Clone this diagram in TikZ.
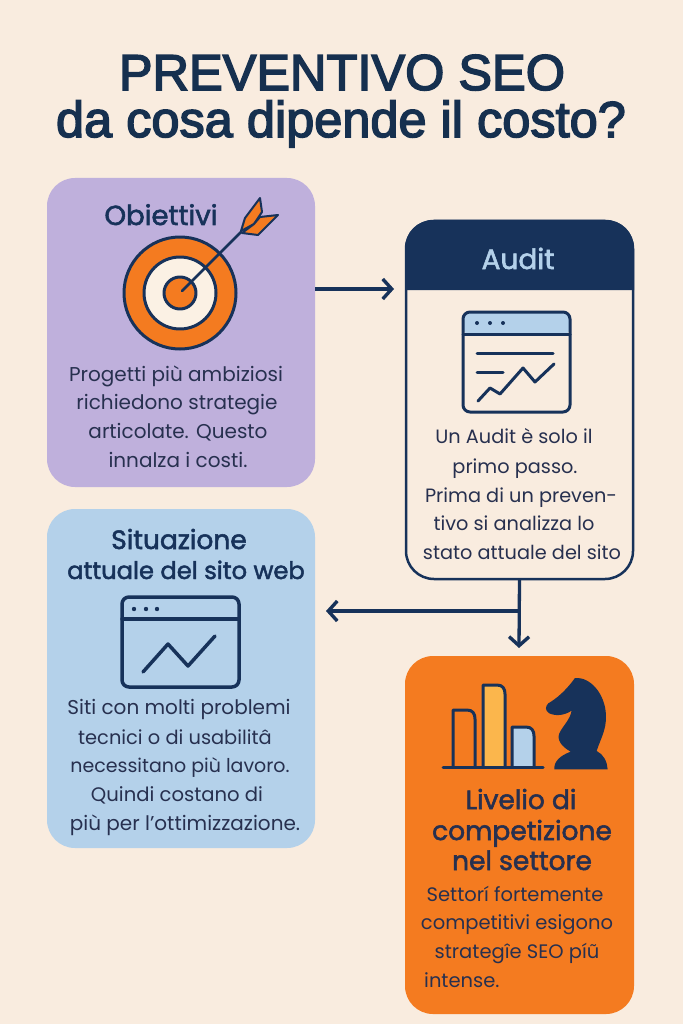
\documentclass[tikz,border=0pt]{standalone}
\usepackage{fontspec}
\setmainfont{Poppins}
\newfontfamily\ttlfont[FakeBold=3]{Liberation Sans}
\newfontfamily\headfont[FakeBold=2]{Poppins}
\usetikzlibrary{arrows.meta}
\definecolor{bgc}{HTML}{F9ECDF}
\definecolor{navy}{HTML}{17325A}
\definecolor{ttlc}{HTML}{16304F}
\definecolor{ink}{HTML}{27304F}
\definecolor{lilac}{HTML}{BFB0DC}
\definecolor{sky}{HTML}{B4D1EA}
\definecolor{org}{HTML}{F47B20}
\definecolor{yel}{HTML}{FBB64C}
\definecolor{cream}{HTML}{FBF1E4}
\tikzset{
 x=1pt,y=-1pt,
 card/.style={rounded corners=28pt,minimum width=#1,inner sep=0pt,outer sep=0pt},
 body/.style={text=ink,inner sep=0pt,anchor=base,font=\fontsize{#1}{20}\selectfont},
 body/.default=20,
 head/.style={text=navy,inner sep=0pt,anchor=base,font=\headfont\fontsize{#1}{26}\selectfont},
 head/.default=26.5,
 ttl/.style={text=ttlc,inner sep=0pt,anchor=base,font=\ttlfont\fontsize{50.5}{52}\selectfont},
 icon/.style={draw=navy,line width=3pt,line join=round,line cap=round},
 thin icon/.style={draw=navy,line width=2.5pt,line join=round,line cap=round},
 conn/.style={draw=navy,line width=3.3pt,-{Straight Barb[length=9pt,width=20pt,line width=3.4pt]}},
}
\begin{document}
\begin{tikzpicture}
\useasboundingbox (0,0) rectangle (683,1024);
\fill[bgc] (0,0) rectangle (683,1024);
% title
\node[ttl] (t1) at (342,90) {PREVENTIVO SEO};
\node[ttl] (t2) at (341,137) {da cosa dipende il costo?};
% cards
\node[card=268pt,minimum height=309pt,fill=lilac] (obj) at (181,332.5) {};
\node[card=227pt,minimum height=358pt,fill=bgc,draw=navy,line width=2.5pt] (aud) at (519.5,400) {};
\node[card=268pt,minimum height=339pt,fill=sky] (sit) at (181,678.5) {};
\node[card=229pt,minimum height=358pt,fill=org] (cmp) at (519.5,835) {};
% audit header
\fill[navy] (405,290) [rounded corners=28pt] -- (405,220) -- (634,220) [sharp corners] -- (634,290) -- cycle;
\node[head=28,text=sky] (audh) at (518,269) {Audit};
% connectors
\coordinate (objout) at (315,289);
\coordinate (audin) at (394,289);
\coordinate (branch) at (519,611);
\coordinate (sitin) at (326,611);
\coordinate (cmpin) at (519,648);
\draw[conn] (objout) -- (audin);
\draw[conn] (aud.south) -- (cmpin);
\draw[conn] (branch) -- (sitin);
% Obiettivi
\node[head=27.5] (objh) at (161,225) {Obiettivi};
\draw[icon,fill=org] (180,293) circle (56);
\draw[icon,fill=cream] (180,293) circle (36);
\draw[icon,fill=org] (180,293) circle (16);
\draw[thin icon] (182,291) -- (241,232);
\draw[thin icon,fill=org,line width=2pt] (241,231) -- (245,218) -- (260,198) -- (262,212) -- (254,224) -- cycle;
\draw[thin icon,fill=org,line width=2pt] (242,233) -- (258,235) -- (278,215) -- (260,217) -- (254,224) -- cycle;
\node[body] (o1) at (176,381) {Progetti più ambiziosi};
\node[body] (o2) at (177,409) {richiedono strategie};
\node[body] (o3) at (178,438) {articolate. Questo};
\node[body] (o4) at (178,467) {innalza i costi.};
% Audit icon
\fill[sky,rounded corners=6pt] (463,334) -- (463,312) -- (570,312) -- (570,334) -- cycle;
\draw[icon,rounded corners=7pt] (463,312) rectangle (570,412);
\draw[icon] (463,334) -- (570,334);
\foreach \d/\n in {477/a,490/b,503/c} \fill[navy] (\d,323) circle (2);
\draw[icon] (477,353) -- (553,353);
\draw[icon] (477,372) -- (503,372);
\draw[icon] (478,401) -- (490,388) -- (500,394) -- (523,368) -- (535,382) -- (554,364);
\node[body=19.3] (a1) at (514,443) {Un Audit è solo il};
\node[body=19.3] (a2) at (515,473) {primo passo.};
\node[body=19.3] (a3) at (521,502) {Prima di un preven-};
\node[body=19.3] (a4) at (514,530) {tivo si analizza lo};
\node[body=19.3] (a5) at (522,559) {stato attuale del sito};
% Situazione
\node[head] (s1) at (179,549) {Situazione};
\node[head=24.2] (s2) at (186,579) {attuale del sito web};
\draw[icon,line width=3.5pt,rounded corners=7pt] (122,597) rectangle (239,687);
\draw[icon,line width=3.5pt] (122,619) -- (239,619);
\foreach \d/\n in {134/a,146/b,157/c} \fill[navy] (\d,609) circle (2.2);
\draw[icon,line width=3.5pt] (143,672) -- (168,644) -- (188,666) -- (215,636);
\node[body] (s3) at (179,714) {Siti con molti problemi};
\node[body=19.4] (s4) at (175,744) {tecnici o di usabilitâ};
\node[body=19] (s5) at (180,772) {necessitano più lavoro.};
\node[body=19.6] (s6) at (177,801) {Quindi costano di};
\node[body] (s7) at (185,830) {più per l’ottimizzazione.};
% Competizione icon
\fill[yel] (483,767) -- (483,685) -- (497,685) .. controls (503,685) and (505,689) .. (505,694) -- (505,767) -- cycle;
\fill[sky] (512,767) -- (512,727) -- (526,727) .. controls (532,727) and (534,731) .. (534,736) -- (534,767) -- cycle;
\draw[icon,line cap=butt] (453,767) -- (453,710) -- (467,710) .. controls (473,710) and (475,714) .. (475,719) -- (475,767);
\draw[icon,line cap=butt] (483,767) -- (483,685) -- (497,685) .. controls (503,685) and (505,689) .. (505,694) -- (505,767);
\draw[icon,line cap=butt] (512,767) -- (512,727) -- (526,727) .. controls (532,727) and (534,731) .. (534,736) -- (534,767);
\draw[icon] (443,767) -- (543,767);
\begin{scope}[shift={(400,650)},x=0.3333pt,y=-0.3333pt]
\fill[navy] (463,358) .. controls (462,335) and (478,318) .. (512,305)
 .. controls (485,290) and (470,270) .. (478,250)
 .. controls (488,228) and (510,210) .. (515,182)
 .. controls (495,195) and (470,200) .. (448,190)
 .. controls (435,182) and (435,170) .. (445,160)
 .. controls (470,145) and (495,125) .. (525,84)
 .. controls (570,80) and (615,130) .. (618,195)
 .. controls (620,240) and (600,270) .. (590,303)
 .. controls (610,312) and (622,335) .. (623,358) -- cycle;
\end{scope}
\node[head,text=ink] (c1) at (521,809) {Livelio di};
\node[head,text=ink] (c2) at (522,840) {competizione};
\node[head,text=ink] (c3) at (522,870) {nel settore};
\node[body=19.5] (c4) at (515,901) {Settorí fortemente};
\node[body=19.5] (c5) at (517,929) {competitivi esigono};
\node[body=19.5] (c6) at (517,958) {strategîe SEO píũ};
\node[body=19.5,anchor=base west] (c7) at (424,987) {intense.};
\end{tikzpicture}
\end{document}
